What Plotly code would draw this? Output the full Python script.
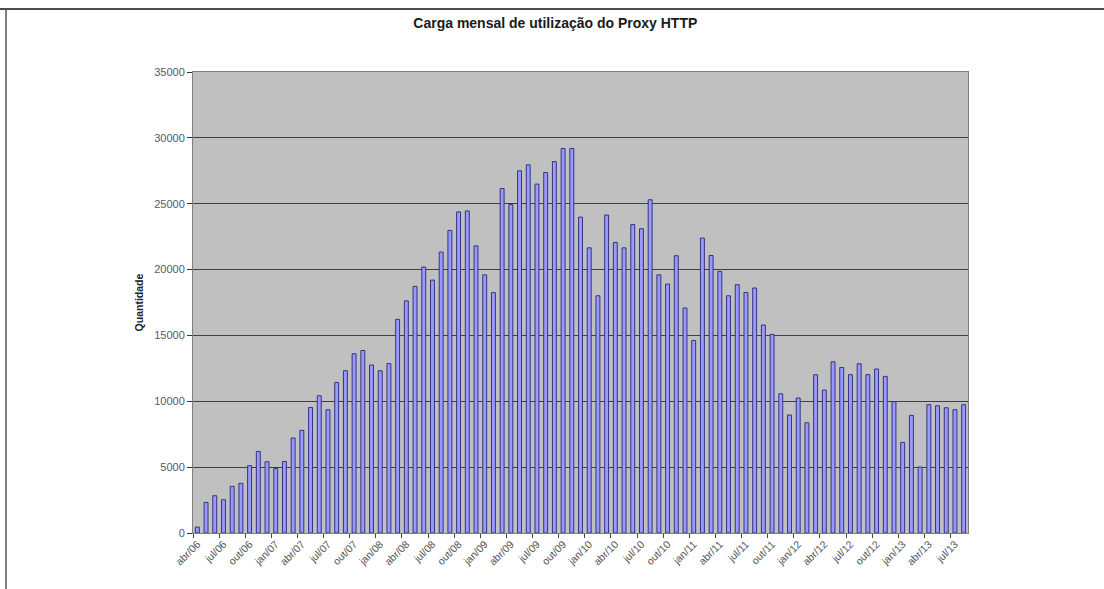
import plotly.graph_objects as go

months = ["jan", "fev", "mar", "abr", "mai", "jun", "jul", "ago", "set", "out", "nov", "dez"]
categories = []
for yr in range(6, 14):
    for m in months:
        categories.append(f"{m}/{yr:02d}")
categories = categories[categories.index("abr/06"):categories.index("ago/13") + 1]

values = [
    450, 2320, 2830, 2530, 3540, 3770, 5110, 6190, 5410,          # abr/06 - dez/06
    4900, 5430, 7210, 7790, 9530, 10420, 9360, 11430, 12320, 13610, 13860, 12750,  # 2007
    12320, 12860, 16220, 17620, 18720, 20190, 19200, 21330, 22970, 24380, 24450, 21800,  # 2008
    19600, 18250, 26150, 24940, 27500, 27950, 26490, 27370, 28200, 29190, 29190, 23980,  # 2009
    21650, 18010, 24140, 22060, 21650, 23420, 23100, 25300, 19600, 18900, 21050, 17080,  # 2010
    14620, 22390, 21070, 19860, 18010, 18850, 18260, 18600, 15790, 15080, 10570, 8960,   # 2011
    10250, 8370, 12020, 10850, 13000, 12570, 12020, 12850, 12020, 12450, 11890, 9970,   # 2012
    6880, 8930, 5010, 9740, 9660, 9510, 9360, 9740,                                     # 2013
]

positions = list(range(len(categories)))
tick_positions = positions[::3]
tick_labels = categories[::3]

title_text = "Carga mensal de utilização do Proxy HTTP"
y_title = "Quantidade"

fig = go.Figure()
fig.add_trace(go.Bar(
    x=positions,
    y=values,
    customdata=categories,
    marker=dict(color="#9999FF", line=dict(color="#333380", width=1)),
    hovertemplate="%{customdata}: %{y}<extra></extra>",
))

fig.update_layout(
    width=1104,
    height=589,
    margin=dict(l=193, r=136, t=72, b=56),
    paper_bgcolor="white",
    plot_bgcolor="#C0C0C0",
    bargap=0.55,
    showlegend=False,
    font=dict(family="Liberation Sans, Arial, sans-serif", size=9, color="#444444"),
    title=dict(
        text="<b>" + title_text + "</b>",
        x=0.503, xref="container", xanchor="center",
        y=1 - 23 / 589, yref="container", yanchor="middle",
        font=dict(size=14, color="#1a1a1a"),
    ),
    xaxis=dict(
        tickmode="array",
        tickvals=tick_positions,
        ticktext=tick_labels,
        tickangle=-45,
        tickfont=dict(size=10.5, color="#555555"),
        ticks="",
        minor=dict(tick0=-0.5, dtick=3, ticks="outside", ticklen=4,
                   tickcolor="#444444", showgrid=False),
        showgrid=False,
        showline=True,
        linecolor="#808080",
        linewidth=1,
        mirror=True,
        zeroline=False,
        range=[-0.5, len(categories) - 0.5],
        fixedrange=True,
    ),
    yaxis=dict(
        range=[0, 35000],
        dtick=5000,
        tickformat="d",
        tickfont=dict(size=11, color="#555577"),
        ticks="outside",
        ticklen=5,
        tickcolor="#333333",
        showgrid=True,
        gridcolor="#404040",
        gridwidth=1.3,
        showline=True,
        linecolor="#808080",
        linewidth=1,
        mirror=True,
        zeroline=False,
        title=dict(text="<b>" + y_title + "</b>", font=dict(size=10.5, color="#222222"), standoff=8),
        fixedrange=True,
    ),
    shapes=[
        dict(type="line", xref="paper", yref="paper",
             x0=-193 / 775, x1=911 / 775, y0=1 + 63 / 461, y1=1 + 63 / 461,
             line=dict(color="#111111", width=1.5)),
        dict(type="line", xref="paper", yref="paper",
             x0=-187 / 775, x1=-187 / 775, y0=1 + 63 / 461, y1=-56 / 461,
             line=dict(color="#555555", width=1.5)),
    ],
)

fig.write_html(
    "out.html",
    config={"displayModeBar": False},
    post_script="document.body.style.margin='0';document.body.style.padding='0';document.body.style.overflow='hidden';",
)
